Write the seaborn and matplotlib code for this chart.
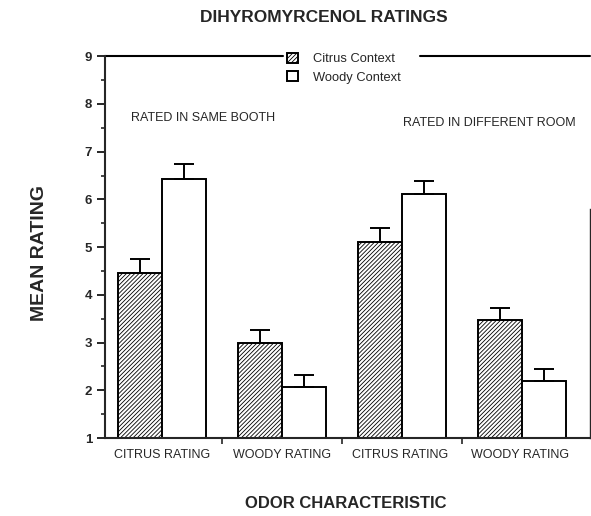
import matplotlib
matplotlib.use("Agg")
import matplotlib.pyplot as plt
from matplotlib.patches import Patch
from matplotlib.ticker import MultipleLocator, FixedLocator
import pandas as pd
import seaborn as sns

# ---------------------------------------------------------------
# Data
# ---------------------------------------------------------------
characteristics = ["CITRUS RATING", "WOODY RATING", "CITRUS RATING ", "WOODY RATING "]
contexts = ["Citrus Context", "Woody Context"]
citrus_means = [4.45, 3.0, 5.1, 3.47]
woody_means = [6.42, 2.07, 6.12, 2.19]
citrus_sem = [0.3, 0.27, 0.3, 0.25]
woody_sem = [0.32, 0.25, 0.26, 0.25]

df = pd.DataFrame(
    {
        "characteristic": characteristics * 2,
        "context": [contexts[0]] * 4 + [contexts[1]] * 4,
        "rating": citrus_means + woody_means,
        "sem": citrus_sem + woody_sem,
    }
)

# ---------------------------------------------------------------
# Plot
# ---------------------------------------------------------------
sns.set_style("ticks")
plt.rcParams["font.family"] = ["Liberation Sans", "DejaVu Sans"]
plt.rcParams["hatch.linewidth"] = 0.6

fig = plt.figure(figsize=(5.91, 5.16), dpi=100)
ax = fig.add_axes([0.178, 0.151, 0.821, 0.740])

sns.barplot(
    data=df, x="characteristic", y="rating", hue="context",
    hue_order=contexts, order=characteristics,
    palette=["white", "white"], edgecolor="black", linewidth=1.4,
    width=0.73, errorbar=None, legend=False, ax=ax,
)

# hatch citrus bars, add one-sided error bars
for cont, ctx in zip(ax.containers, contexts):
    sub = df[df["context"] == ctx].set_index("characteristic").loc[characteristics]
    for bar, (_, row) in zip(cont, sub.iterrows()):
        if ctx == "Citrus Context":
            bar.set_hatch("////////")
        cx = bar.get_x() + bar.get_width() / 2
        ax.errorbar(cx, row["rating"], yerr=[[0], [row["sem"]]], fmt="none",
                    ecolor="black", elinewidth=1.4, capsize=7.5, capthick=1.4)

ax.set_ylim(1, 9)
ax.set_xlim(-0.475, 3.57)
ax.yaxis.set_major_locator(MultipleLocator(1))
ax.yaxis.set_minor_locator(MultipleLocator(0.5))
ax.xaxis.set_minor_locator(FixedLocator([0.5, 1.5, 2.5]))
ax.tick_params(axis="y", which="major", length=6, width=1.4, labelsize=9.5)
ax.tick_params(axis="y", which="minor", length=3, width=1.2)
ax.tick_params(axis="x", which="major", length=0, labelsize=9, pad=8)
ax.tick_params(axis="x", which="minor", length=4, width=1.2)
for lab in ax.get_yticklabels():
    lab.set_fontweight("bold")

for side in ["left", "bottom", "right"]:
    ax.spines[side].set_linewidth(1.5)
ax.spines["right"].set_visible(True)
ax.spines["right"].set_bounds(1, 5.8)
ax.spines["right"].set_linewidth(1.0)
ax.spines["top"].set_visible(False)
# top frame line, broken where the legend sits
for x0, x1 in [(0.0, 0.367), (0.649, 1.0)]:
    ax.plot([x0, x1], [1, 1], color="black", lw=1.5,
            transform=ax.transAxes, clip_on=False)

ax.set_xlabel("")
ax.set_ylabel("")

ax.text(-0.258, 7.70, "RATED IN SAME BOOTH", fontsize=9, va="center", ha="left")
ax.text(2.008, 7.60, "RATED IN DIFFERENT ROOM", fontsize=9, va="center", ha="left")

handles = [
    Patch(facecolor="white", edgecolor="black", hatch="////////", linewidth=1.4),
    Patch(facecolor="white", edgecolor="black", linewidth=1.4),
]
fig.legend(handles, contexts, loc="upper left",
           bbox_to_anchor=(287 / 591, 1 - 53 / 516), frameon=False,
           fontsize=9.3, handlelength=0.85, handleheight=0.8,
           handletextpad=1.15, labelspacing=0.45, borderpad=0,
           borderaxespad=0)

fig.text(324 / 591, 1 - 18 / 516, "DIHYROMYRCENOL RATINGS", fontsize=12.5,
         fontweight="bold", ha="center", va="center")
fig.text(40 / 591, 1 - 253 / 516, "MEAN RATING", fontsize=14, fontweight="bold",
         rotation=90, ha="center", va="center")
fig.text(0.585, 1 - 503 / 516, "ODOR CHARACTERISTIC", fontsize=12,
         fontweight="bold", ha="center", va="center")

fig.savefig("out.png", dpi=100)
